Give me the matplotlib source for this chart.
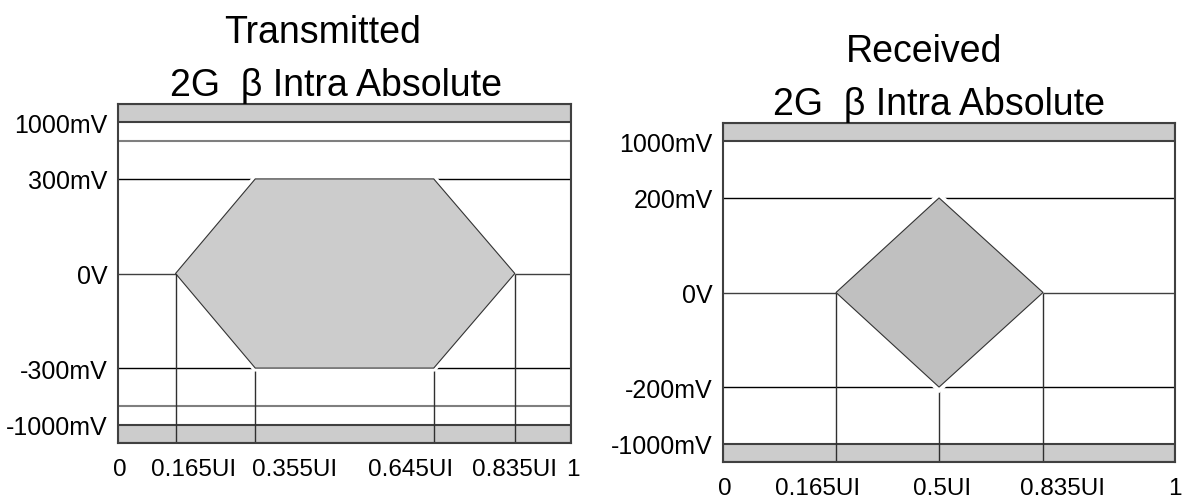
import numpy as np
import matplotlib
matplotlib.use("Agg")
import matplotlib.pyplot as plt
from matplotlib.transforms import ScaledTranslation

plt.rcParams['font.family'] = ['Liberation Sans', 'DejaVu Sans']

# Transmitter eye mask (time in UI, amplitude in mV)
tx_mask_ui = [0.165, 0.355, 0.645, 0.835, 0.645, 0.355]
tx_mask_mv = [0, 300, 300, 0, -300, -300]
tx_xticks = [0, 0.165, 0.355, 0.645, 0.835, 1]
tx_xlabels = ['0', '0.165UI', '0.355UI', '0.645UI', '0.835UI', '1']
tx_yticks = [-1000, -300, 0, 300, 1000]
tx_ylabels = ['-1000mV', '-300mV', '0V', '300mV', '1000mV']
tx_guides_mv = [-800, 800]

# Receiver eye mask
rx_mask_ui = [0.165, 0.5, 0.835, 0.5]
rx_mask_mv = [0, 200, 0, -200]
rx_xticks = [0, 0.165, 0.5, 0.835, 1]
rx_xlabels = ['0', '0.165UI', '0.5UI', '0.835UI', '1']
rx_yticks = [-1000, -200, 0, 200, 1000]
rx_ylabels = ['-1000mV', '-200mV', '0V', '200mV', '1000mV']
rx_guides_mv = []

limit_mv = 1000
edge_mv = 1100

# schematic (not to scale) axis layout: value -> fraction of axis
tx_xknots = ([0, 0.165, 0.355, 0.645, 0.835, 1], [0, 0.127, 0.303, 0.697, 0.876, 1])
tx_yknots = ([-1100, -1000, -800, -300, 0, 300, 800, 1000, 1100],
             [0, 0.054, 0.11, 0.221, 0.5, 0.779, 0.89, 0.946, 1])
rx_xknots = ([0, 0.165, 0.5, 0.835, 1], [0, 0.25, 0.478, 0.708, 1])
rx_yknots = ([-1100, -1000, -200, 0, 200, 1000, 1100],
             [0, 0.054, 0.221, 0.5, 0.779, 0.946, 1])

# label nudges in points
tx_xnudge = [1, 13, 28, -17, 0, 1]
rx_xnudge = [1.5, -13, 2, 14, 0]


def piecewise(knots):
    vals = np.asarray(knots[0], float)
    pos = np.asarray(knots[1], float)
    return (lambda v: np.interp(v, vals, pos),
            lambda p: np.interp(p, pos, vals))


def draw_mask(ax, mask_ui, mask_mv, xticks, xlabels, yticks, ylabels, guides,
              xknots, yknots, xnudge, fill, halo):
    ax.set_xscale('function', functions=piecewise(xknots))
    ax.set_yscale('function', functions=piecewise(yknots))
    ax.set_xlim(0, 1)
    ax.set_ylim(-edge_mv, edge_mv)

    # forbidden bands above/below the absolute limits
    for lo, hi in [(limit_mv, edge_mv), (-edge_mv, -limit_mv)]:
        ax.axhspan(lo, hi, fc='#cccccc', ec='#404040', lw=1.5, zorder=1)

    for g in guides:
        ax.axhline(g, color='#7f7f7f', lw=1.5, zorder=2)

    peak = max(mask_mv)
    ax.axhline(peak, color='black', lw=1.0, zorder=2)
    ax.axhline(-peak, color='black', lw=1.0, zorder=2)

    ui = np.array(mask_ui)
    mv = np.array(mask_mv)
    bottom_x = np.unique(ui[mv < 0])
    ax.vlines(bottom_x, -edge_mv, mv.min(), color='#303030', lw=1.0, zorder=2)

    # white halo outside the mask breaks the grid lines near its corners
    ax.fill(mask_ui, mask_mv, fc='none', ec='white', lw=halo, joinstyle='miter', zorder=3)
    ax.fill(mask_ui, mask_mv, fc=fill, ec='none', zorder=3.5)
    ax.fill(mask_ui, mask_mv, fc='none', ec='#333333', lw=0.8, zorder=4)

    mid_x = ui[mv == 0]
    ax.hlines([0, 0], [0, mid_x.max()], [mid_x.min(), 1], color='#404040', lw=1.0, zorder=5)
    ax.vlines(mid_x, -edge_mv, 0, color='#303030', lw=1.0, zorder=5)

    ax.set_xticks(xticks)
    ax.set_xticklabels(xlabels)
    ax.set_yticks(yticks)
    ax.set_yticklabels(ylabels)
    ax.minorticks_off()
    ax.tick_params(length=0, colors='black')
    ax.tick_params(axis='y', pad=7.5, labelsize=18)
    ax.tick_params(axis='x', pad=11, labelsize=17.5)
    for lab, dx in zip(ax.get_xticklabels(), xnudge):
        lab.set_transform(lab.get_transform() + ScaledTranslation(dx / 72, 0, ax.figure.dpi_scale_trans))

    for sp in ax.spines.values():
        sp.set_color('#404040')
        sp.set_linewidth(1.5)
        sp.set_zorder(6)


W, H = 1187, 502
fig = plt.figure(figsize=(W / 100, H / 100), dpi=100)

ax_tx = fig.add_axes([118 / W, (H - 444) / H, 453 / W, 339 / H])
ax_rx = fig.add_axes([723 / W, (H - 463) / H, 452 / W, 339 / H])

draw_mask(ax_tx, tx_mask_ui, tx_mask_mv, tx_xticks, tx_xlabels, tx_yticks, tx_ylabels,
          tx_guides_mv, tx_xknots, tx_yknots, tx_xnudge, '#cccccc', 5)
draw_mask(ax_rx, rx_mask_ui, rx_mask_mv, rx_xticks, rx_xlabels, rx_yticks, rx_ylabels,
          rx_guides_mv, rx_xknots, rx_yknots, rx_xnudge, '#c0c0c0', 6.5)

title_kw = dict(ha='center', va='baseline', fontsize=27)
fig.text(323 / W, 1 - 43 / H, 'Transmitted', **title_kw)
fig.text(336 / W, 1 - 96 / H, '2G  β Intra Absolute', **title_kw)
fig.text(924 / W, 1 - 62 / H, 'Received', **title_kw)
fig.text(939 / W, 1 - 115 / H, '2G  β Intra Absolute', **title_kw)

fig.savefig('out.png', dpi=100)
